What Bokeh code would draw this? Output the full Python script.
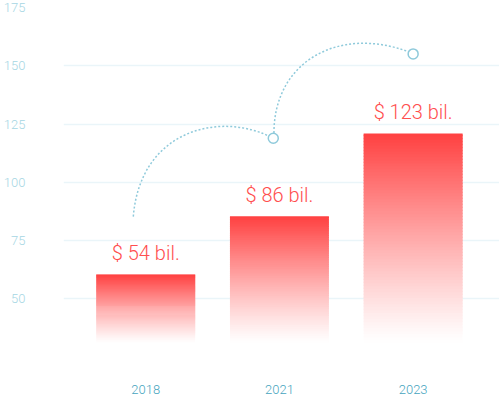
from bokeh.plotting import figure
from bokeh.models import Range1d, FixedTicker, ColumnDataSource
from bokeh.core.properties import value
from bokeh.embed import file_html
from bokeh.resources import INLINE

# ---- data ----
years = ["2018", "2021", "2023"]
bar_values = [60.5, 85.5, 121.0]
bar_labels = ["$ 54 bil.", "$ 86 bil.", "$ 123 bil."]
bar_base = 31
y_ticks = [50, 75, 100, 125, 150, 175]

# decorative dotted arcs (cubic bezier: start, control1, control2, end)
arc1_x = [-0.093, -0.041, 0.556, 0.951]
arc1_y = [85.3, 122.4, 130.9, 119.0]
arc2_x = [0.959, 0.959, 1.451, 1.966]
arc2_y = [121.1, 152.2, 167.1, 156.0]
marker_x = [0.954, 2.0]
marker_y = [118.9, 155.1]

# ---- styles ----
RED = (255, 64, 64)
LABEL_RED = "#ff4f4f"
ARC = "#8fcadb"
XLAB = "#45a4be"
YLAB = "#a6d6e3"
GRID = "#eaf5f9"
FONT = "Roboto Light, Roboto"

xs = list(range(len(years)))
bar_w = 0.74

p = figure(width=499, height=398, output_backend="svg", toolbar_location=None,
           x_range=Range1d(-0.615, 2.646), y_range=Range1d(25.3, 175),
           min_border_left=62, min_border_right=0, min_border_top=7,
           min_border_bottom=42, outline_line_color=None,
           background_fill_color="white", border_fill_color="white")


def mix(a):
    r = round(255 + (RED[0] - 255) * a)
    g = round(255 + (RED[1] - 255) * a)
    b = round(255 + (RED[2] - 255) * a)
    return "#%02x%02x%02x" % (r, g, b)


# gradient bars built from opaque horizontal strips (red -> white)
N = 70
rows = dict(left=[], right=[], bottom=[], top=[], color=[])
for x, v in zip(xs, bar_values):
    h = v - bar_base
    for i in range(N):
        b = bar_base + h * i / N
        t = bar_base + h * (i + 1) / N
        if i < N - 1:
            t += h * 0.6 / N
        frac = (i + 0.5) / N
        rows["left"].append(x - bar_w / 2)
        rows["right"].append(x + bar_w / 2)
        rows["bottom"].append(b)
        rows["top"].append(t)
        rows["color"].append(mix(min(1.0, frac ** 1.15)))
src = ColumnDataSource(rows)
p.quad(left="left", right="right", bottom="bottom", top="top", source=src,
       fill_color="color", fill_alpha=1.0, line_color=None)

# value labels
p.text(x=xs, y=bar_values, text=bar_labels, text_align="center",
       text_baseline="alphabetic", y_offset=-21, text_color=LABEL_RED,
       text_font=value(FONT), text_font_size="20px")

# dotted arcs
p.bezier(x0=[arc1_x[0], arc2_x[0]], y0=[arc1_y[0], arc2_y[0]],
         cx0=[arc1_x[1], arc2_x[1]], cy0=[arc1_y[1], arc2_y[1]],
         cx1=[arc1_x[2], arc2_x[2]], cy1=[arc1_y[2], arc2_y[2]],
         x1=[arc1_x[3], arc2_x[3]], y1=[arc1_y[3], arc2_y[3]],
         line_color=ARC, line_width=1.5, line_dash="2 2")
p.scatter(marker_x, marker_y, size=10, marker="circle", fill_color="white",
          line_color=ARC, line_width=1.5)

# axes
p.xaxis.ticker = FixedTicker(ticks=xs)
p.xaxis.major_label_overrides = {i: y for i, y in enumerate(years)}
p.xaxis.axis_line_color = None
p.xaxis.major_tick_line_color = None
p.xaxis.minor_tick_line_color = None
p.xaxis.major_label_standoff = 22
p.xaxis.major_label_text_color = XLAB
p.xaxis.major_label_text_font = FONT
p.xaxis.major_label_text_font_size = "13px"

p.yaxis.ticker = FixedTicker(ticks=y_ticks)
p.yaxis.axis_line_color = None
p.yaxis.major_tick_line_color = None
p.yaxis.minor_tick_line_color = None
p.yaxis.major_label_standoff = 32
p.yaxis.major_label_text_color = YLAB
p.yaxis.major_label_text_font = FONT
p.yaxis.major_label_text_font_size = "13px"

p.xgrid.grid_line_color = None
p.ygrid.grid_line_color = GRID
p.ygrid.grid_line_width = 1.5

open("out.html", "w").write(file_html(p, INLINE))
